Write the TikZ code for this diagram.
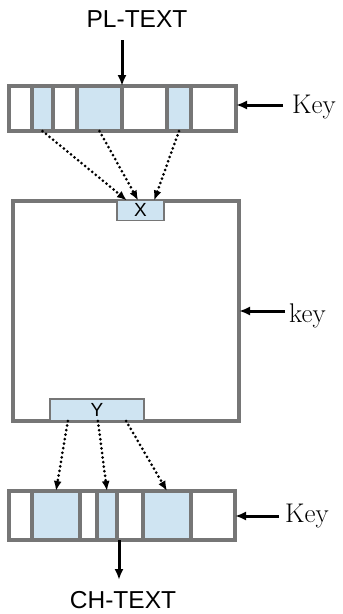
\documentclass[tikz,border=0pt]{standalone}
\usepackage{fontspec}
\newfontfamily\labelsans{Liberation Sans}
\usetikzlibrary{arrows.meta,calc}
\definecolor{cellblue}{HTML}{CFE4F2}
\definecolor{framegray}{HTML}{767676}
\tikzset{
  cellbox/.style={draw=framegray, line width=3.2pt, inner sep=0pt, outer sep=0pt, anchor=north west},
  tagbox/.style={draw=framegray, line width=1.2pt, fill=cellblue, inner sep=0pt, outer sep=0pt, anchor=north west},
  solidarrow/.style={line width=3pt, -{Latex[length=11pt,width=9pt]}},
  dotarrow/.style={line width=3pt, dash pattern=on 0pt off 4.6pt, line cap=round, -{Latex[length=10pt,width=8pt]}},
  sanslabel/.style={font=\labelsans\fontsize{24.5}{28}\selectfont, inner sep=0pt},
  taglabel/.style={font=\labelsans\fontsize{19}{21}\selectfont, inner sep=0pt},
  keylabel/.style={font=\fontsize{27}{31}\selectfont, inner sep=0pt, anchor=base west},
}
\begin{document}
\begin{tikzpicture}[x=1pt,y=-1pt]
\useasboundingbox (0,0) rectangle (343,614);

% input row of cells (left edge, width, fill)
\foreach \l/\w/\f [count=\i] in {9/23/white,32/21/cellblue,53/24/white,77/45/cellblue,122/45/white,167/24/cellblue,191/45/white}
  \node[cellbox, fill=\f, minimum width=\w pt, minimum height=45pt] (t\i) at (\l,86) {};

% output row of cells
\foreach \l/\w/\f [count=\i] in {9/23/white,32/48/cellblue,80/17/white,97/20/cellblue,117/26/white,143/48/cellblue,191/44/white}
  \node[cellbox, fill=\f, minimum width=\w pt, minimum height=49pt] (b\i) at (\l,491) {};

% central block with its entry and exit fields
\node[cellbox, fill=white, minimum width=226pt, minimum height=220pt] (core) at (13,201) {};
\node[tagbox, minimum width=47pt, minimum height=20pt] (X) at (117,200.5) {};
\node[taglabel] at ([yshift=0.5pt]X.center) {X};
\node[tagbox, minimum width=94pt, minimum height=22pt] (Y) at (50,399) {};
\node[taglabel] at ([yshift=0.5pt]Y.center) {Y};

% text labels
\node[sanslabel] (pl) at (137,19) {PL-TEXT};
\node[sanslabel] (ch) at (123,600) {CH-TEXT};
\node[keylabel] (k1) at (292,113) {Key};
\node[keylabel] (k2) at (289,322) {key};
\node[keylabel] (k3) at (285,522) {Key};

% key inputs
\coordinate (k1s) at (283,105);
\coordinate (k2s) at (285,311);
\coordinate (k3s) at (279,516);
\draw[solidarrow] (k1s) -- (t7.east |- k1s);
\draw[solidarrow] (k2s) -- (core.east |- k2s);
\draw[solidarrow] (k3s) -- (b7.east |- k3s);

% plaintext in, ciphertext out
\coordinate (plin) at (122,40);
\draw[solidarrow] (plin) -- (t5.north west);
\coordinate (chout) at (119,580);
\draw[solidarrow] (b5.south west) ++(2,0) -- (chout);

% dotted selections into X
\draw[dotarrow] (t2.south) -- ($(X.north west)!0.21!(X.north east)$);
\draw[dotarrow] (t4.south) -- ($(X.north west)!0.45!(X.north east)$);
\draw[dotarrow] (t6.south) -- ($(X.north west)!0.79!(X.north east)$);

% dotted spread from Y
\draw[dotarrow] ($(Y.south west)!0.19!(Y.south east)$) -- (b2.north);
\draw[dotarrow] ($(Y.south west)!0.51!(Y.south east)$) -- (b4.north);
\draw[dotarrow] ($(Y.south west)!0.81!(Y.south east)$) -- (b6.north);
\end{tikzpicture}
\end{document}
